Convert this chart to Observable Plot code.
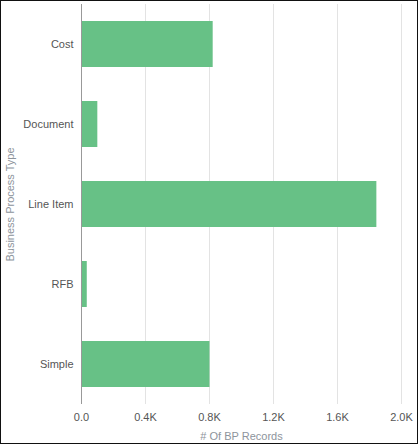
<!DOCTYPE html>
<html>
<head>
<meta charset="utf-8">
<script src="https://cdn.jsdelivr.net/npm/d3@7"></script>
<script src="https://cdn.jsdelivr.net/npm/@observablehq/plot@0.6"></script>
<style>
  body { margin: 0; background: #fff; }
  #chart { width: 418px; height: 444px; box-sizing: border-box; border: 1px solid #111; overflow: hidden; }
  #chart svg { display: block; font-family: "Liberation Sans", Arial, sans-serif; }
</style>
</head>
<body>
<div id="chart"></div>
<script>
const types = ['Cost', 'Document', 'Line Item', 'RFB', 'Simple']
const records = [823, 102, 1846, 36, 803]
const xTicks = [0, 400, 800, 1200, 1600, 2000]

const data = types.map((t, i) => ({type: t, n: records[i]}))
const fmt = d => d == 0 ? '0.0' : (d / 1000).toFixed(1) + 'K'

let chart = Plot.plot({
  width: 416,
  height: 442,
  marginTop: 3,
  marginBottom: 39,
  marginLeft: 80,
  marginRight: 16,
  style: {fontSize: '11px', fontFamily: '"Liberation Sans", Arial, sans-serif'},
  x: {domain: [0, 2000]},
  y: {domain: types, paddingInner: 0.425, paddingOuter: 0.2125},
  marks: [
    Plot.gridX(xTicks.slice(1), {stroke: '#e3e3e3', strokeOpacity: 1, strokeWidth: 1}),
    Plot.barX(data, {x: 'n', y: 'type', fill: '#67c186'}),
    Plot.ruleX([0], {stroke: '#999', strokeWidth: 1}),
    Plot.axisX(xTicks, {
      tickSize: 0,
      tickPadding: 9,
      tickFormat: fmt,
      fill: '#555',
      label: null,
    }),
    Plot.axisY({
      tickSize: 0,
      tickPadding: 8,
      fill: '#555',
      label: null,
    }),
    // axis titles
    Plot.text(['# Of BP Records'], {
      text: d => d,
      frameAnchor: 'bottom',
      dy: 32,
      textAnchor: 'middle',
      lineAnchor: 'middle',
      fill: '#8d949c',
    }),
    Plot.text(['Business Process Type'], {
      text: d => d,
      frameAnchor: 'left',
      dx: -71,
      rotate: -90,
      textAnchor: 'middle',
      lineAnchor: 'middle',
      fill: '#8d949c',
    }),
  ],
})
d3.select('#chart').append(() => chart)
</script>
</body>
</html>
